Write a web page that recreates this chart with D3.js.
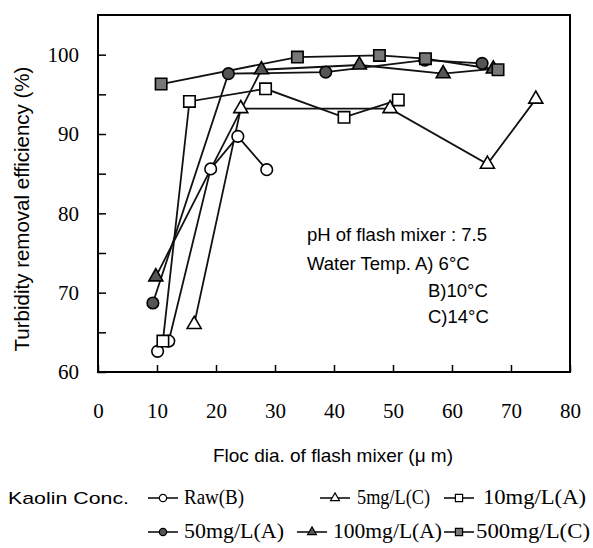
<!DOCTYPE html>
<html>
<head>
<meta charset="utf-8">
<script src="https://cdn.jsdelivr.net/npm/d3@7"></script>
<style>
html,body{margin:0;padding:0;background:#fff;}
svg{display:block;}
</style>
</head>
<body>
<svg id="chart" width="593" height="548"></svg>
<script>
// ---- data ----
const seriesNames = ["Raw(B)", "5mg/L(C)", "10mg/L(A)", "50mg/L(A)", "100mg/L(A)", "500mg/L(C)"];
const rawX   = [10.1, 12.0, 19.1, 23.7, 28.6];
const rawY   = [62.6, 63.9, 85.6, 89.7, 85.5];
const c5X    = [16.3, 24.2, 49.5, 66.0, 74.2];
const c5Y    = [66.0, 93.2, 93.2, 86.2, 94.4];
const c10X   = [11.0, 15.5, 28.4, 41.7, 50.9];
const c10Y   = [63.9, 94.1, 95.7, 92.1, 94.3];
const c50X   = [9.3, 22.1, 38.6, 55.4, 65.1];
const c50Y   = [68.7, 97.6, 97.8, 99.3, 98.9];
const c100X  = [9.8, 27.7, 44.3, 58.5, 67.0];
const c100Y  = [72.0, 98.1, 98.7, 97.6, 98.2];
const c500X  = [10.7, 33.8, 47.7, 55.5, 67.8];
const c500Y  = [96.3, 99.7, 99.9, 99.5, 98.1];
const xTicks = [0, 10, 20, 30, 40, 50, 60, 70, 80];
const yTicks = [60, 65, 70, 75, 80, 85, 90, 95, 100];
const yLabelTicks = [60, 70, 80, 90, 100];
const notes = ["pH of flash mixer : 7.5", "Water Temp. A) 6\u00B0C", "B)10\u00B0C", "C)14\u00B0C"];

// ---- styling ----
const styles = [
  {shape: d3.symbolCircle,   size: 105, fill: "#fff"},
  {shape: d3.symbolTriangle, size: 85,  fill: "#fff"},
  {shape: d3.symbolSquare,   size: 130, fill: "#fff"},
  {shape: d3.symbolCircle,   size: 105, fill: "#555"},
  {shape: d3.symbolTriangle, size: 85,  fill: "#555"},
  {shape: d3.symbolSquare,   size: 130, fill: "#777"}
];
const xs = [rawX, c5X, c10X, c50X, c100X, c500X];
const ys = [rawY, c5Y, c10Y, c50Y, c100Y, c500Y];
const series = seriesNames.map((n, i) => ({name: n, pts: xs[i].map((x, j) => ({x, y: ys[i][j]})), st: styles[i]}));

const svg = d3.select("#chart");
const L = 98, R = 570, T = 15, B = 372;
const x = d3.scaleLinear().domain([0, 80]).range([L, R]);
const y = d3.scaleLinear().domain([60, 105]).range([B, T]);

const serif = "'Liberation Serif','Times New Roman',serif";
const sans = "'Liberation Sans',Arial,sans-serif";

// axes
const xAxis = d3.axisBottom(x).tickValues(xTicks).tickSize(-7).tickPadding(31).tickFormat(d3.format("d"));
const gx = svg.append("g").attr("transform", `translate(0,${B})`).call(xAxis);
gx.select(".domain").remove();
gx.selectAll("line").attr("stroke", "#000").attr("stroke-width", 1.5);
gx.selectAll("text").attr("font-family", serif).attr("font-size", 21).attr("fill", "#000");

const yAxis = d3.axisLeft(y).tickValues(yTicks).tickSize(-8).tickPadding(19)
  .tickFormat(d => yLabelTicks.includes(d) ? String(d) : "");
const gy = svg.append("g").attr("transform", `translate(${L},0)`).call(yAxis);
gy.select(".domain").remove();
gy.selectAll("line").attr("stroke", "#000").attr("stroke-width", 1.5);
gy.selectAll("text").attr("font-family", serif).attr("font-size", 21).attr("fill", "#000");

// frame
svg.append("rect").attr("x", L).attr("y", T).attr("width", R - L).attr("height", B - T)
  .attr("fill", "none").attr("stroke", "#000").attr("stroke-width", 2);

// lines
const line = d3.line().x(d => x(d.x)).y(d => y(d.y));
series.forEach(s => {
  svg.append("path").datum(s.pts).attr("d", line)
    .attr("fill", "none").attr("stroke", "#111").attr("stroke-width", 1.8);
});
// markers
series.forEach(s => {
  svg.append("g").selectAll("path").data(s.pts).join("path")
    .attr("transform", d => `translate(${x(d.x)},${y(d.y)})`)
    .attr("d", d3.symbol().type(s.st.shape).size(s.st.size))
    .attr("fill", s.st.fill).attr("stroke", "#000").attr("stroke-width", 1.6);
});

// annotations
const noteX = [307, 307, 428, 428];
const noteY = [241, 270, 297, 323];
notes.forEach((t, i) => {
  svg.append("text").attr("x", noteX[i]).attr("y", noteY[i]).text(t)
    .attr("font-family", sans).attr("font-size", 18.5).attr("fill", "#000");
});

// axis titles
svg.append("text").attr("x", (L + R) / 2 - 1).attr("y", 462).attr("text-anchor", "middle")
  .attr("font-family", sans).attr("font-size", 19).attr("fill", "#000")
  .text("Floc dia. of flash mixer (\u03BC m)");
svg.append("text").attr("transform", "translate(29,209) rotate(-90)").attr("text-anchor", "middle")
  .attr("font-family", sans).attr("font-size", 20.5).attr("fill", "#000")
  .text("Turbidity removal efficiency (%)");

// legend
svg.append("text").attr("x", 8).attr("y", 504).text("Kaolin Conc.")
  .attr("font-family", sans).attr("font-size", 17).attr("fill", "#000")
  .attr("textLength", 121).attr("lengthAdjust", "spacingAndGlyphs");
const legSym = [[148, 498], [320, 498], [444, 498], [148, 532], [297, 532], [444, 532]];
const legText = [184, 357, 483, 184, 333, 476];
const legW = [60, 73, 103, 100, 109, 114];
series.forEach((s, i) => {
  const [lx, ly] = legSym[i];
  const g = svg.append("g").attr("transform", `translate(${lx},${ly})`);
  g.append("line").attr("x1", 0).attr("x2", 30).attr("y1", 0).attr("y2", 0)
    .attr("stroke", "#000").attr("stroke-width", 1.5);
  g.append("path").attr("transform", "translate(15,0)")
    .attr("d", d3.symbol().type(s.st.shape).size(s.st.size * 0.4))
    .attr("fill", s.st.fill).attr("stroke", "#000").attr("stroke-width", 1.2);
  svg.append("text").attr("x", legText[i]).attr("y", ly + 6).text(s.name)
    .attr("font-family", serif).attr("font-size", 20).attr("fill", "#000")
    .attr("textLength", legW[i]).attr("lengthAdjust", "spacingAndGlyphs");
});
</script>
</body>
</html>
